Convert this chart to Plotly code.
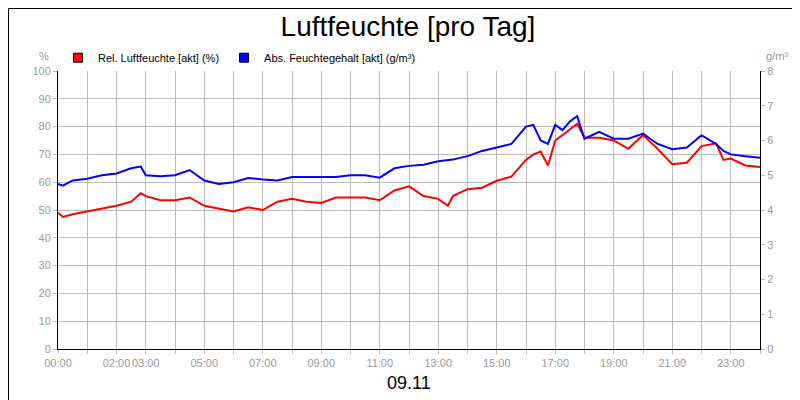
import plotly.graph_objects as go

hours = [0, 0.17, 0.5, 1, 1.5, 2, 2.5, 2.83, 3, 3.5, 4, 4.5, 5, 5.5, 6, 6.5, 7, 7.5, 8, 8.5, 9, 9.5,
         10, 10.5, 11, 11.5, 12, 12.5, 13, 13.33, 13.5, 14, 14.5, 15, 15.5, 16, 16.25, 16.5, 16.75,
         17, 17.25, 17.5, 17.75, 18, 18.5, 19, 19.5, 20, 20.5, 21, 21.5, 22, 22.5, 22.75, 23, 23.5, 24]
rel = [49, 47.5, 48.5, 49.5, 50.5, 51.5, 53, 56, 55, 53.5, 53.5, 54.5, 51.5, 50.5, 49.5, 51, 50, 53, 54, 53, 52.5, 54.5,
       54.5, 54.5, 53.5, 57, 58.5, 55, 54, 51.5, 55, 57.5, 58, 60.5, 62, 68, 70, 71, 66,
       75, 77, 79, 81, 76, 76, 75, 72, 77, 72, 66.5, 67, 73, 74, 68, 68.5, 66, 65.5]
absf = [4.75, 4.7, 4.85, 4.9, 5.0, 5.05, 5.2, 5.25, 5.0, 4.97, 5.0, 5.15, 4.85, 4.75, 4.8, 4.92, 4.88, 4.85, 4.95, 4.95, 4.93, 4.95,
        5.0, 5.0, 4.93, 5.2, 5.27, 5.3, 5.4, 5.42, 5.45, 5.55, 5.7, 5.8, 5.9, 6.4, 6.45, 6.0, 5.9,
        6.45, 6.3, 6.55, 6.7, 6.05, 6.25, 6.05, 6.05, 6.2, 5.9, 5.75, 5.8, 6.15, 5.9, 5.7, 5.6, 5.55, 5.5]

tick_hours = list(range(25))
tick_labels = ["00:00", "", "02:00", "03:00", "", "05:00", "", "07:00", "", "09:00", "", "11:00", "",
               "13:00", "", "15:00", "", "17:00", "", "19:00", "", "21:00", "", "23:00", ""]

names = ["Rel. Luftfeuchte [akt] (%)", "Abs. Feuchtegehalt [akt] (g/m³)"]
colors = ["#ff0000", "#0000ff"]

fig = go.Figure()
fig.add_trace(go.Scatter(x=hours, y=rel, mode="lines", line=dict(color=colors[0], width=2),
                         name=names[0], showlegend=False))
fig.add_trace(go.Scatter(x=hours, y=absf, mode="lines", line=dict(color=colors[1], width=2),
                         name=names[1], yaxis="y2", showlegend=False))
for n, c in zip(names, colors):
    fig.add_trace(go.Scatter(x=[None], y=[None], mode="markers", name=n,
                             marker=dict(symbol="square", size=9, color=c, line=dict(color="black", width=1))))

grey = "#bbbbbb"
fig.update_layout(
    width=800, height=400, paper_bgcolor="white", plot_bgcolor="white",
    margin=dict(l=50, r=48, t=63, b=59, autoexpand=False),
    font=dict(family="Liberation Sans, Arial", size=11, color="#999999"),
    title=dict(text="Luftfeuchte [pro Tag]", x=0.5, xanchor="center", y=0.955, yanchor="middle",
               font=dict(size=28, color="black")),
    showlegend=True,
    legend=dict(orientation="h", x=0.0, y=1.1, xanchor="left", yanchor="top",
                font=dict(size=11, color="black"), traceorder="normal", itemwidth=30,
                bgcolor="rgba(0,0,0,0)"),
    xaxis=dict(range=[0, 24], tickvals=tick_hours, ticktext=tick_labels, showgrid=True, gridcolor=grey,
               showline=True, linecolor="black", ticks="outside", tickcolor=grey, ticklen=4,
               zeroline=False, tickangle=0, automargin=False, tickfont=dict(color="#999999")),
    yaxis=dict(range=[0, 100], dtick=10, showgrid=True, gridcolor=grey, showline=True, linecolor="black",
               ticks="outside", tickcolor=grey, ticklen=4, zeroline=False, automargin=False),
    yaxis2=dict(range=[0, 8], dtick=1, overlaying="y", side="right", showgrid=False, showline=True,
                linecolor="black", ticks="outside", tickcolor=grey, ticklen=4, zeroline=False,
                automargin=False),
    shapes=[dict(type="rect", xref="paper", yref="paper", x0=-49.5 / 702, x1=1 + 47.5 / 702,
                 y0=-58.5 / 278, y1=1 + 62.5 / 278, line=dict(color="black", width=1))],
    annotations=[
        dict(text="%", xref="paper", yref="paper", x=-0.01, y=1.055, xanchor="right", yanchor="middle",
             showarrow=False, font=dict(color="#999999")),
        dict(text="g/m³", xref="paper", yref="paper", x=1.005, y=1.055, xanchor="left", yanchor="middle",
             showarrow=False, font=dict(color="#999999")),
        dict(text="09.11", xref="paper", yref="paper", x=0.5, y=-0.08, yanchor="top", showarrow=False,
             font=dict(size=18, color="black")),
    ],
)

fig.write_html("out.html")
